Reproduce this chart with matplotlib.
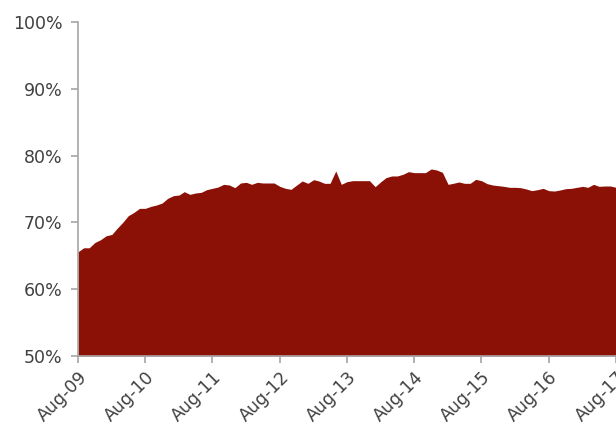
import numpy as np
import pandas as pd
import matplotlib
matplotlib.use("Agg")
import matplotlib.pyplot as plt
import matplotlib.dates as mdates
from matplotlib.ticker import FuncFormatter

# monthly share, Aug-09 .. Aug-17 (percent)
share = [65.6, 66.2, 66.2, 67.0, 67.4, 68.0, 68.2, 69.1, 70.0, 71.0, 71.5, 72.1,
         72.1, 72.4, 72.6, 72.9, 73.6, 74.0, 74.1, 74.6, 74.2, 74.4, 74.5, 74.9,
         75.1, 75.3, 75.7, 75.6, 75.2, 75.9, 76.0, 75.7, 76.0, 75.9, 75.9, 75.9,
         75.4, 75.1, 74.95, 75.6, 76.2, 75.85, 76.4, 76.2, 75.85, 75.85, 77.7, 75.7,
         76.1, 76.25, 76.25, 76.25, 76.25, 75.35, 76.1, 76.7, 76.95, 76.95, 77.2, 77.6,
         77.45, 77.45, 77.45, 78.0, 77.85, 77.5, 75.7, 75.85, 76.05, 75.85, 75.85, 76.45,
         76.25, 75.8, 75.6, 75.5, 75.4, 75.25, 75.25, 75.2, 75.0, 74.75, 74.9, 75.1,
         74.75, 74.7, 74.85, 75.05, 75.1, 75.25, 75.4, 75.25, 75.7, 75.4, 75.45, 75.45,
         75.25]
months = pd.date_range("2009-08-01", periods=len(share), freq="MS")
tick_years = list(range(2009, 2018))

fig = plt.figure(figsize=(6.16, 4.34), dpi=100)
ax = fig.add_axes([0.1266, 0.1797, 0.8734, 0.7696])

ax.fill_between(months, 50, share, color="#8B1106", linewidth=0)

ax.set_xlim(months[0], months[-1])
ax.set_ylim(50, 100)
ax.set_yticks(np.arange(50, 101, 10))
ax.yaxis.set_major_formatter(FuncFormatter(lambda v, p: "%d%%" % v))

ticks = [pd.Timestamp(y, 8, 1) for y in tick_years]
ax.set_xticks(ticks)
ax.set_xticklabels(["Aug-%02d" % (y % 100) for y in tick_years],
                   rotation=45, ha="right", rotation_mode="anchor")

for s in ["top", "right"]:
    ax.spines[s].set_visible(False)
for s in ["left", "bottom"]:
    ax.spines[s].set_color("#A6A6A6")
    ax.spines[s].set_linewidth(1.2)
ax.tick_params(axis="both", colors="#A6A6A6", length=5, width=1.2,
               labelcolor="#404040", labelsize=12.5)
ax.tick_params(axis="y", pad=6)
ax.tick_params(axis="x", pad=4)

plt.savefig("out.png", dpi=100)
